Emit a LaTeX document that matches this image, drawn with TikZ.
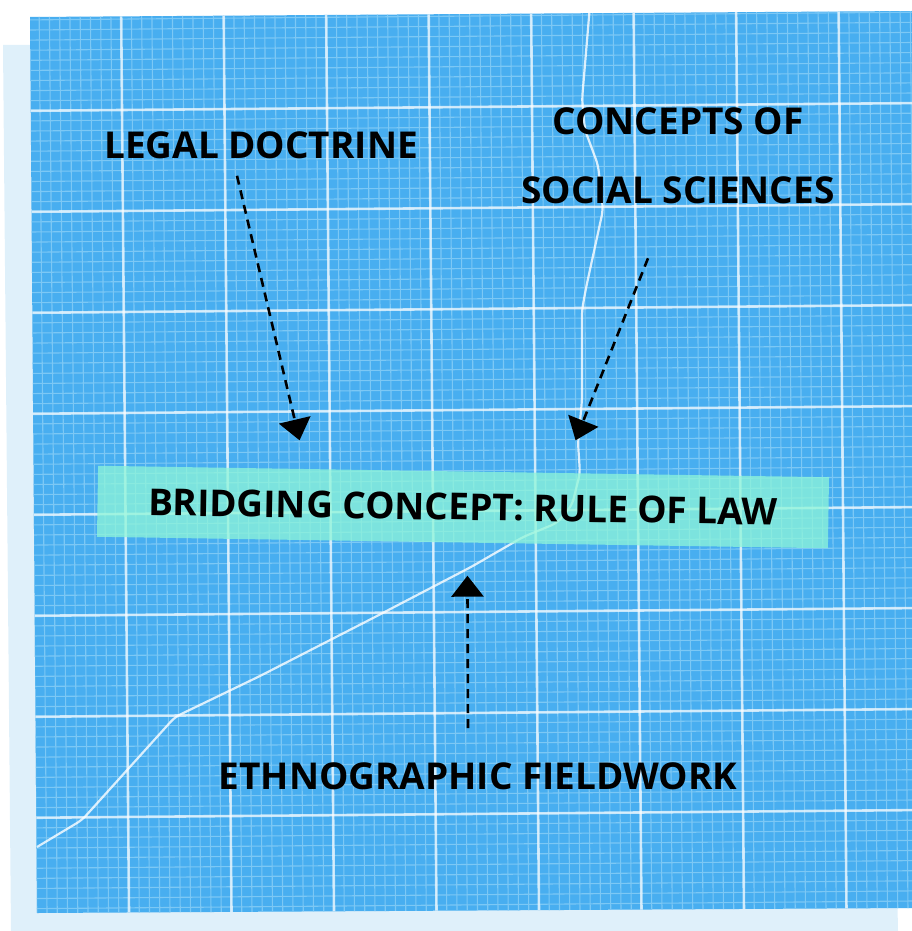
\documentclass[tikz,border=0pt]{standalone}
\usepackage{fontspec}
\setmainfont{Open Sans}
\usepackage{tikz}
\usetikzlibrary{calc, arrows.meta, positioning}
\definecolor{shadowblue}{HTML}{DFF0FA}
\definecolor{paperblue}{HTML}{48AEF0}
\definecolor{gridfine}{HTML}{7CC8F5}
\definecolor{bandmint}{HTML}{8EF6D8}

\begin{document}
\begin{tikzpicture}[x=1pt, y=-1pt,
  term/.style={font=\fontsize{37}{69}\selectfont\bfseries, inner sep=0pt, align=center},
  bridge/.style={term, fill=bandmint, fill opacity=0.75, text opacity=1,
                 minimum width=731pt, minimum height=71pt, rotate=-0.9},
  arr/.style={-{Triangle[width=32pt,length=21pt]}, line width=2.6pt, dash pattern=on 9pt off 6pt},
  gridthin/.style={gridfine, line width=1.1pt},
  gridbold/.style={white, opacity=0.7, line width=2.6pt},
  crack/.style={white, opacity=0.8, line width=2.2pt, line join=round, rounded corners=6pt}]
\useasboundingbox (0,0) rectangle (912,931);
\fill[shadowblue] (3,45) -- (880,38) -- (898,931) -- (11,931) -- cycle;
\fill[paperblue] (30,17) -- (912,11) -- (912,908) -- (37,913) -- cycle;
\begin{scope}
  \clip (30,17) -- (912,11) -- (912,908) -- (37,913) -- cycle;
  \begin{scope}[rotate around={0.5:(122,110)}]
    \foreach \j in {-20,...,90} {
      \draw[gridthin] (122+10.25*\j,-40) -- (122+10.25*\j,980);
      \draw[gridthin] (-40,110+10.1*\j) -- (980,110+10.1*\j);
    }
    \foreach \i in {-2,...,9} {
      \draw[gridbold] (122+102.5*\i,-40) -- (122+102.5*\i,980);
      \draw[gridbold] (-40,110+101*\i) -- (980,110+101*\i);
    }
  \end{scope}
  \draw[crack] (37,847) -- (82,820) -- (175,717) -- (260,676) -- (375,617) -- (471,567)
    -- (523,537) -- (557,523) -- (572,505) -- (580,473) -- (578,443) -- (582,400)
    -- (582,310) -- (586,288) -- (603,210) -- (598,165) -- (585,130) -- (582,100) -- (590,5);
\end{scope}

\node[bridge] (bridge) at (463,507) {BRIDGING CONCEPT: RULE OF LAW};
\node[term] (legal) at (261,145) {LEGAL DOCTRINE};
\node[term] (social) at (678,156) {CONCEPTS OF\\SOCIAL SCIENCES};
\node[term] (field) at (478,776) {ETHNOGRAPHIC FIELDWORK};

\draw[arr] ($(legal.south)+(-24,17)$) -- ($(bridge.north)+(-164,-31)$);
\draw[arr] ($(social.south)+(-30,54)$) -- ($(bridge.north)+(112,-31)$);
\draw[arr] ($(field.north)+(-10,-34)$) -- ($(bridge.south)+(5,33)$);
\end{tikzpicture}
\end{document}
